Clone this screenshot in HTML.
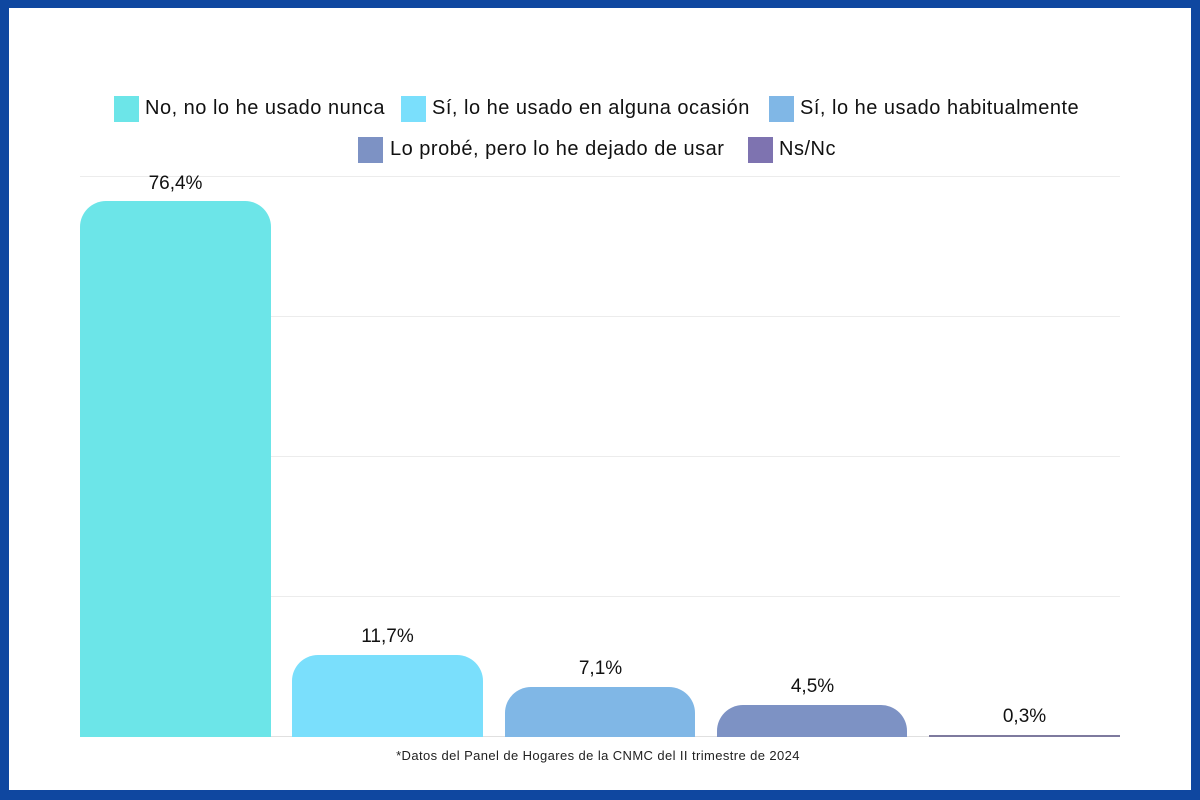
<!DOCTYPE html>
<html><head><meta charset="utf-8"><style>
html,body{margin:0;padding:0}
body{width:1200px;height:800px;position:relative;background:#0f47a0;font-family:"Liberation Sans",sans-serif;overflow:hidden}
.in{position:absolute;left:9px;top:8px;width:1182px;height:782px;background:#fff}
.a{position:absolute}
.sw{position:absolute;width:25px;height:26px}
.lt{position:absolute;font-size:20px;letter-spacing:0.5px;color:#111;white-space:nowrap;line-height:26px}
.g{position:absolute;left:80px;width:1040px;height:1px;background:#ececec}
.bar{position:absolute;border-radius:26px 26px 0 0}
.lab{position:absolute;font-size:19px;color:#111;text-align:center;width:191px;line-height:20px}
</style></head><body>
<div class="in"></div>
<div class="sw" style="left:114px;top:96px;background:#6ce5e8"></div><div class="lt" style="left:145px;top:95px">No, no lo he usado nunca</div>
<div class="sw" style="left:401px;top:96px;background:#7adffc"></div><div class="lt" style="left:432px;top:95px">Sí, lo he usado en alguna ocasión</div>
<div class="sw" style="left:769px;top:96px;background:#80b7e6"></div><div class="lt" style="left:800px;top:95px">Sí, lo he usado habitualmente</div>
<div class="sw" style="left:358px;top:137px;background:#7d92c4"></div><div class="lt" style="left:390px;top:136px">Lo probé, pero lo he dejado de usar</div>
<div class="sw" style="left:748px;top:137px;background:#7e73b0"></div><div class="lt" style="left:779px;top:136px">Ns/Nc</div>
<div class="g" style="top:176px"></div>
<div class="g" style="top:316px"></div>
<div class="g" style="top:456px"></div>
<div class="g" style="top:596px"></div>
<div class="g" style="top:736px;background:#e0e0e0"></div>
<div class="bar" style="left:80px;width:191px;top:201px;height:536px;background:#6ce5e8"></div>
<div class="bar" style="left:292px;width:191px;top:655px;height:82px;background:#7adffc"></div>
<div class="bar" style="left:505px;width:190px;top:687px;height:50px;background:#80b7e6"></div>
<div class="bar" style="left:717px;width:190px;top:705px;height:32px;background:#7d92c4"></div>
<div class="a" style="left:929px;width:191px;top:735px;height:2px;background:#7e7a9e"></div>
<div class="lab" style="left:80px;top:174px">76,4%</div>
<div class="lab" style="left:292px;top:627px">11,7%</div>
<div class="lab" style="left:505px;top:659px">7,1%</div>
<div class="lab" style="left:717px;top:677px">4,5%</div>
<div class="lab" style="left:929px;top:707px">0,3%</div>
<div class="a" style="left:0;width:1196px;top:748px;text-align:center;font-size:13px;letter-spacing:0.4px;color:#222">*Datos del Panel de Hogares de la CNMC del II trimestre de 2024</div>
</body></html>
